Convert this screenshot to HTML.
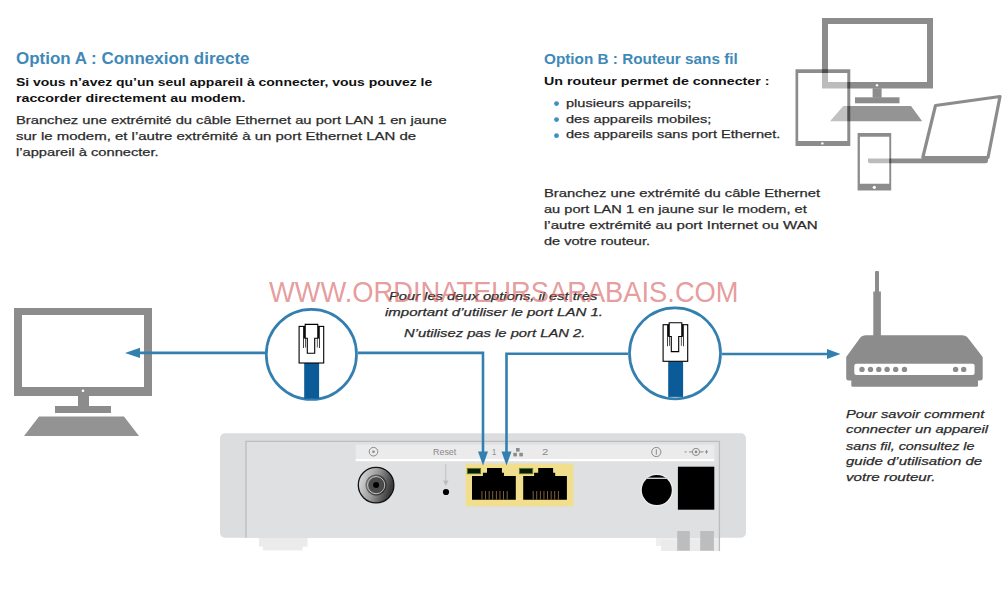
<!DOCTYPE html>
<html><head><meta charset="utf-8"><style>
html,body{margin:0;padding:0;background:#fff;width:1007px;height:605px;overflow:hidden;}
body{position:relative;font-family:"Liberation Sans",sans-serif;}
.t{position:absolute;white-space:nowrap;line-height:1;transform-origin:0 0;-webkit-text-stroke:0.25px currentColor;}
#wm,#tA,#tB,#bA1,#bA2,#bB1,#rst,#p1,#p2{-webkit-text-stroke:0;}
svg{position:absolute;left:0;top:0;}
</style></head><body>
<svg width="1007" height="605" viewBox="0 0 1007 605">
<!-- top-right devices -->
<g>
 <path fill="rgba(0,0,0,0.45)" fill-rule="evenodd" d="M822 18H933V88.5H822Z M828 24V82H927V24Z"/>
 <rect x="872.6" y="88.5" width="9" height="8.8" fill="rgba(0,0,0,0.45)"/>
 <rect x="855" y="97.3" width="44.5" height="6" fill="rgba(0,0,0,0.45)"/>
 <circle cx="877" cy="85.2" r="1.2" fill="#fff"/>
 <polygon points="843.3,106 911,106 922.2,121.3 830,121.3" fill="rgba(0,0,0,0.42)"/>
 <!-- laptop -->
 <path fill="none" stroke="#8c8c8c" stroke-width="3.2" stroke-linejoin="round" d="M935.5 105.5 L1000 96.5 L988 157.5 L922.8 157.5 Z"/>
 <path fill="#8c8c8c" d="M868 158.6 H988 V161 Q988 163.2 985.5 163.2 H870 Q868 163.2 868 161.2Z"/>
 <!-- tablet -->
 <path fill="rgba(255,255,255,0.42)" d="M798.2 73.1H847.3V141.1H798.2Z"/>
 <path fill="rgba(0,0,0,0.45)" fill-rule="evenodd" d="M795.5 69.2H850.3V146H795.5Z M798.2 73.1V141.1H847.3V73.1Z"/>
 <circle cx="822.4" cy="143.4" r="1.2" fill="#fff"/>
 <!-- phone -->
 <path fill="rgba(255,255,255,0.42)" d="M859.9 136.7H889.3V183.8H859.9Z"/>
 <path fill="rgba(0,0,0,0.45)" fill-rule="evenodd" d="M857.6 132.9H891.2V190.5H857.6Z M859.9 136.7V183.8H889.3V136.7Z"/>
 <circle cx="874.3" cy="187.3" r="1.6" fill="#fff"/>
</g>
<!-- left computer -->
<g fill="#8c8c8c">
 <path fill-rule="evenodd" d="M14 308H152V396H14Z M22 315V387H144V315Z"/>
 <rect x="78" y="396" width="11" height="10"/>
 <rect x="55" y="406" width="56" height="7"/>
 <polygon points="39,416.5 124,416.5 139,436 24,436" fill="#939393"/>
 <circle cx="83" cy="390.8" r="1.3" fill="#fff"/>
</g>
<!-- router -->
<g fill="#8c8c8c">
 <rect x="875" y="270.9" width="4" height="22" rx="1"/>
 <rect x="873.3" y="291.5" width="7.6" height="45"/>
 <path d="M866 335.2 H962 Q966 335.2 968 338 L982.7 357 V378 Q982.7 380.5 980 380.5 H849 Q846.2 380.5 846.2 378 V357 L860 338 Q862 335.2 866 335.2Z"/>
 <rect x="851.3" y="379" width="126.7" height="7.8" rx="1.5"/>
 <rect x="854.3" y="363.7" width="120.3" height="11.3" rx="2" fill="#fff"/>
 <circle cx="862" cy="369.4" r="2.7"/><circle cx="870.5" cy="369.4" r="2.7"/><circle cx="878.8" cy="369.4" r="2.7"/>
 <circle cx="887.1" cy="369.4" r="2.7"/><circle cx="895.7" cy="369.4" r="2.7"/><circle cx="904.5" cy="369.4" r="2.7"/>
 <circle cx="955.6" cy="369.4" r="2.7"/><circle cx="963.7" cy="369.4" r="2.7"/>
</g>
<!-- modem -->
<g>
 <rect x="259" y="536" width="48.5" height="10.6" fill="#ebebeb"/>
 <rect x="263" y="540" width="39.6" height="10.4" fill="#ebebeb"/>
 <rect x="656" y="536" width="64" height="10" fill="#efefef"/>
 <rect x="661" y="540" width="59" height="11" fill="#ebebeb"/>
 <rect x="220" y="433.3" width="526" height="104.4" rx="5" fill="#dcdddf"/>
 <rect x="246" y="441.3" width="473.4" height="96.4" fill="#dfe0e1"/>
 <path d="M246 537.7V441.3H719.4V551" fill="none" stroke="#bcbdbf" stroke-width="1.3"/>
 <rect x="677.2" y="531" width="12.6" height="19.7" fill="#bcbdbf"/>
 <rect x="700.2" y="531" width="13.7" height="19.7" fill="#bcbdbf"/>
 <rect x="355.7" y="444.6" width="358.6" height="14.6" fill="#ebebec"/>
 <rect x="355.7" y="459" width="358.6" height="2.2" fill="#ffffff"/>
 <!-- label icons -->
 <circle cx="373.5" cy="451.7" r="4.3" fill="none" stroke="#8a8a8a" stroke-width="1"/>
 <circle cx="373.5" cy="451.7" r="1.3" fill="#8a8a8a"/>
 <circle cx="656.3" cy="452" r="4.6" fill="none" stroke="#8a8a8a" stroke-width="1"/>
 <rect x="655.8" y="449.3" width="1" height="5.4" fill="#8a8a8a"/>
 <g fill="#8a8a8a">
  <rect x="684.6" y="451.4" width="2" height="1"/><rect x="689" y="451.4" width="3" height="1"/>
  <rect x="700" y="451.4" width="3.5" height="1"/><rect x="705" y="451.4" width="3" height="1"/><rect x="706" y="450" width="1" height="3.6"/>
 </g>
 <circle cx="696" cy="451.9" r="3.6" fill="none" stroke="#8a8a8a" stroke-width="1"/>
 <circle cx="696" cy="451.9" r="1.3" fill="#8a8a8a"/>
 <g fill="#8c8c8c"><rect x="516" y="448" width="3.6" height="3.6"/><rect x="513.3" y="452.8" width="3.6" height="3.6"/><rect x="519.3" y="452.8" width="3.6" height="3.6"/></g>
 <!-- coax -->
 <defs>
  <linearGradient id="cg" x1="0" y1="0" x2="1" y2="0.3"><stop offset="0" stop-color="#e8e8e8"/><stop offset="0.55" stop-color="#9a9a9a"/><stop offset="1" stop-color="#3a3a3a"/></linearGradient>
  <linearGradient id="cg2" x1="0" y1="0" x2="1" y2="0.3"><stop offset="0" stop-color="#777"/><stop offset="1" stop-color="#333"/></linearGradient>
 </defs>
 <circle cx="376.1" cy="485.1" r="17.8" fill="url(#cg)" stroke="#111" stroke-width="1.3"/>
 <circle cx="376.1" cy="485.1" r="10.6" fill="url(#cg2)"/>
 <circle cx="376.1" cy="485.1" r="8.6" fill="none" stroke="#cfcfcf" stroke-width="0.9"/>
 <circle cx="376.1" cy="485.1" r="7.4" fill="#4a4a4a"/>
 <circle cx="376.1" cy="485.1" r="3" fill="#000"/>
 <!-- reset -->
 <rect x="445.3" y="464" width="0.9" height="19" fill="#bdbdbd"/>
 <polygon points="443,480.5 448.6,480.5 445.8,486" fill="#bdbdbd"/>
 <circle cx="446" cy="492" r="3.1" fill="#000"/>
 <!-- yellow -->
 <rect x="465.6" y="463.6" width="107.8" height="42.7" fill="#f2df8e"/>
 <g fill="#000">
  <path d="M472 476H482.9V472.8H487V467.9H501.9V472.8H504V476H515.8V499.8H472Z"/>
  <path d="M523.2 476H534.1V472.8H538.2V467.9H553.1V472.8H555.2V476H566.9V499.8H523.2Z"/>
 </g>
 <rect x="467.3" y="468.4" width="13.3" height="5.3" fill="#081a08" stroke="#5d7a2a" stroke-width="0.9"/>
 <rect x="519.4" y="468.4" width="13.3" height="5.3" fill="#081a08" stroke="#5d7a2a" stroke-width="0.9"/>
 <g fill="#8a6a40">
  <rect x="481.5" y="491" width="0.9" height="8.5"/><rect x="485.1" y="491" width="0.9" height="8.5"/><rect x="488.7" y="491" width="0.9" height="8.5"/><rect x="492.3" y="491" width="0.9" height="8.5"/>
  <rect x="495.9" y="491" width="0.9" height="8.5"/><rect x="499.5" y="491" width="0.9" height="8.5"/><rect x="503.1" y="491" width="0.9" height="8.5"/><rect x="506.7" y="491" width="0.9" height="8.5"/>
  <rect x="532.7" y="491" width="0.9" height="8.5"/><rect x="536.3" y="491" width="0.9" height="8.5"/><rect x="539.9" y="491" width="0.9" height="8.5"/><rect x="543.5" y="491" width="0.9" height="8.5"/>
  <rect x="547.1" y="491" width="0.9" height="8.5"/><rect x="550.7" y="491" width="0.9" height="8.5"/><rect x="554.3" y="491" width="0.9" height="8.5"/><rect x="557.9" y="491" width="0.9" height="8.5"/>
 </g>
 <!-- power -->
 <circle cx="656.8" cy="490.1" r="16.5" fill="#ececec"/>
 <circle cx="656.8" cy="490.1" r="15" fill="#000"/>
 <rect x="646" y="477.6" width="21.6" height="1.4" fill="#cfcfcf"/>
 <rect x="677.9" y="466.7" width="36.4" height="43" fill="#000"/>
</g>
<g fill="#3d8fbe"><circle cx="556.5" cy="103.6" r="2.4"/><circle cx="556.5" cy="119.6" r="2.4"/><circle cx="556.5" cy="135.7" r="2.4"/></g>
<!-- blue lines -->
<g stroke="#3380b0" stroke-width="2.6" fill="none">
 <path d="M139 352.9H265"/>
 <path d="M358 352.9H483V453"/>
 <path d="M628 353.8H506.5V453"/>
 <path d="M722 354H828"/>
</g>
<g fill="#3380b0">
 <polygon points="125,352.9 140,347.8 140,358"/>
 <polygon points="478,451.5 488,451.5 483,465.5"/>
 <polygon points="501.5,451.5 511.5,451.5 506.5,465.5"/>
 <polygon points="840.5,354 827,349 827,359"/>
</g>
<!-- circles with plugs -->
<g>
 <circle cx="311.4" cy="354.4" r="45.1" fill="#fff" stroke="#3380b0" stroke-width="2.7"/>
</g>
<circle cx="675" cy="353.3" r="45.5" fill="#fff" stroke="#3380b0" stroke-width="2.7"/>
<g id="plugA">
 <rect x="304.2" y="363" width="14.9" height="35.6" fill="#0b5b98"/>
 <rect x="299.1" y="326.4" width="24.6" height="36.6" fill="#fff" stroke="#000" stroke-width="1.1"/>
 <rect x="303.1" y="326.6" width="2.2" height="11.8" fill="#111"/>
 <rect x="317.6" y="326.6" width="2.2" height="11.8" fill="#111"/>
 <rect x="303.1" y="338" width="0.8" height="10" fill="#111"/><rect x="305.2" y="338" width="0.8" height="9.5" fill="#333"/>
 <rect x="319" y="338" width="0.8" height="10" fill="#111"/><rect x="316.9" y="338" width="0.8" height="9.5" fill="#333"/>
 <path d="M305.2 338.2V324.4H317.8V338.2H314.7V353.3H307.3V338.2Z" fill="#fff" stroke="#000" stroke-width="1.1" stroke-linejoin="miter"/>
</g>
<use href="#plugA" transform="translate(364,-1.7)"/>
</svg>

<div id="tA" class="t" style="left:16.00px;top:50.69px;font-size:16.6px;font-weight:bold;font-style:normal;color:#3f89b8;transform:scaleX(1.0226);"><span>Option A : Connexion directe</span></div>
<div id="bA1" class="t" style="left:15.60px;top:76.57px;font-size:11.8px;font-weight:bold;font-style:normal;color:#111111;transform:scaleX(1.1822);"><span>Si vous n’avez qu’un seul appareil à connecter, vous pouvez le</span></div>
<div id="bA2" class="t" style="left:15.60px;top:92.67px;font-size:11.8px;font-weight:bold;font-style:normal;color:#111111;transform:scaleX(1.2062);"><span>raccorder directement au modem.</span></div>
<div id="rA1" class="t" style="left:15.60px;top:114.57px;font-size:11.8px;font-weight:normal;font-style:normal;color:#2b2b2b;transform:scaleX(1.2484);"><span>Branchez une extrémité du câble Ethernet au port LAN 1 en jaune</span></div>
<div id="rA2" class="t" style="left:15.60px;top:130.97px;font-size:11.8px;font-weight:normal;font-style:normal;color:#2b2b2b;transform:scaleX(1.2687);"><span>sur le modem, et l’autre extrémité à un port Ethernet LAN de</span></div>
<div id="rA3" class="t" style="left:15.60px;top:147.07px;font-size:11.8px;font-weight:normal;font-style:normal;color:#2b2b2b;transform:scaleX(1.2429);"><span>l’appareil à connecter.</span></div>
<div id="tB" class="t" style="left:544.00px;top:51.11px;font-size:15.4px;font-weight:bold;font-style:normal;color:#3f89b8;transform:scaleX(0.9940);"><span>Option B : Routeur sans fil</span></div>
<div id="bB1" class="t" style="left:544.30px;top:75.97px;font-size:11.8px;font-weight:bold;font-style:normal;color:#111111;transform:scaleX(1.2072);"><span>Un routeur permet de connecter :</span></div>
<div id="l1" class="t" style="left:566.00px;top:97.77px;font-size:11.8px;font-weight:normal;font-style:normal;color:#2b2b2b;transform:scaleX(1.2332);"><span>plusieurs appareils;</span></div>
<div id="l2" class="t" style="left:566.00px;top:113.67px;font-size:11.8px;font-weight:normal;font-style:normal;color:#2b2b2b;transform:scaleX(1.2383);"><span>des appareils mobiles;</span></div>
<div id="l3" class="t" style="left:566.00px;top:129.47px;font-size:11.8px;font-weight:normal;font-style:normal;color:#2b2b2b;transform:scaleX(1.2381);"><span>des appareils sans port Ethernet.</span></div>
<div id="rB1" class="t" style="left:544.00px;top:188.27px;font-size:11.8px;font-weight:normal;font-style:normal;color:#2b2b2b;transform:scaleX(1.2530);"><span>Branchez une extrémité du câble Ethernet</span></div>
<div id="rB2" class="t" style="left:544.00px;top:203.97px;font-size:11.8px;font-weight:normal;font-style:normal;color:#2b2b2b;transform:scaleX(1.2365);"><span>au port LAN 1 en jaune sur le modem, et</span></div>
<div id="rB3" class="t" style="left:544.00px;top:219.97px;font-size:11.8px;font-weight:normal;font-style:normal;color:#2b2b2b;transform:scaleX(1.2790);"><span>l’autre extrémité au port Internet ou WAN</span></div>
<div id="rB4" class="t" style="left:544.00px;top:235.97px;font-size:11.8px;font-weight:normal;font-style:normal;color:#2b2b2b;transform:scaleX(1.2344);"><span>de votre routeur.</span></div>
<div id="i1" class="t" style="left:389.00px;top:290.77px;font-size:11.8px;font-weight:normal;font-style:italic;color:#2b2b2b;transform:scaleX(1.2456);"><span>Pour les deux options, il est très</span></div>
<div id="i2" class="t" style="left:385.00px;top:306.97px;font-size:11.8px;font-weight:normal;font-style:italic;color:#2b2b2b;transform:scaleX(1.2740);"><span>important d’utiliser le port LAN 1.</span></div>
<div id="i3" class="t" style="left:403.50px;top:327.97px;font-size:11.8px;font-weight:normal;font-style:italic;color:#2b2b2b;transform:scaleX(1.2512);"><span>N’utilisez pas le port LAN 2.</span></div>
<div id="r1" class="t" style="left:846.00px;top:408.77px;font-size:11.8px;font-weight:normal;font-style:italic;color:#2b2b2b;transform:scaleX(1.2409);"><span>Pour savoir comment</span></div>
<div id="r2" class="t" style="left:846.00px;top:424.47px;font-size:11.8px;font-weight:normal;font-style:italic;color:#2b2b2b;transform:scaleX(1.2527);"><span>connecter un appareil</span></div>
<div id="r3" class="t" style="left:846.00px;top:440.87px;font-size:11.8px;font-weight:normal;font-style:italic;color:#2b2b2b;transform:scaleX(1.2169);"><span>sans fil, consultez le</span></div>
<div id="r4" class="t" style="left:846.00px;top:455.97px;font-size:11.8px;font-weight:normal;font-style:italic;color:#2b2b2b;transform:scaleX(1.2735);"><span>guide d’utilisation de</span></div>
<div id="r5" class="t" style="left:846.00px;top:472.07px;font-size:11.8px;font-weight:normal;font-style:italic;color:#2b2b2b;transform:scaleX(1.2828);"><span>votre routeur.</span></div>
<div id="rst" class="t" style="left:432.70px;top:446.93px;font-size:9.5px;font-weight:normal;font-style:normal;color:#8a8a8a;transform:scaleX(0.9373);"><span>Reset</span></div>
<div id="p1" class="t" style="left:491.50px;top:446.63px;font-size:9.5px;font-weight:normal;font-style:normal;color:#8a8a8a;transform:scaleX(0.8000);"><span>1</span></div>
<div id="p2" class="t" style="left:541.50px;top:446.63px;font-size:9.5px;font-weight:normal;font-style:normal;color:#8a8a8a;transform:scaleX(1.2000);"><span>2</span></div>
<div id="wm" class="t" style="left:269.30px;top:277.52px;font-size:28.8px;font-weight:normal;font-style:normal;color:rgba(214,92,92,0.62);transform:scaleX(0.9478);z-index:5;"><span>WWW.ORDINATEURSARABAIS.COM</span></div>
</body></html>
